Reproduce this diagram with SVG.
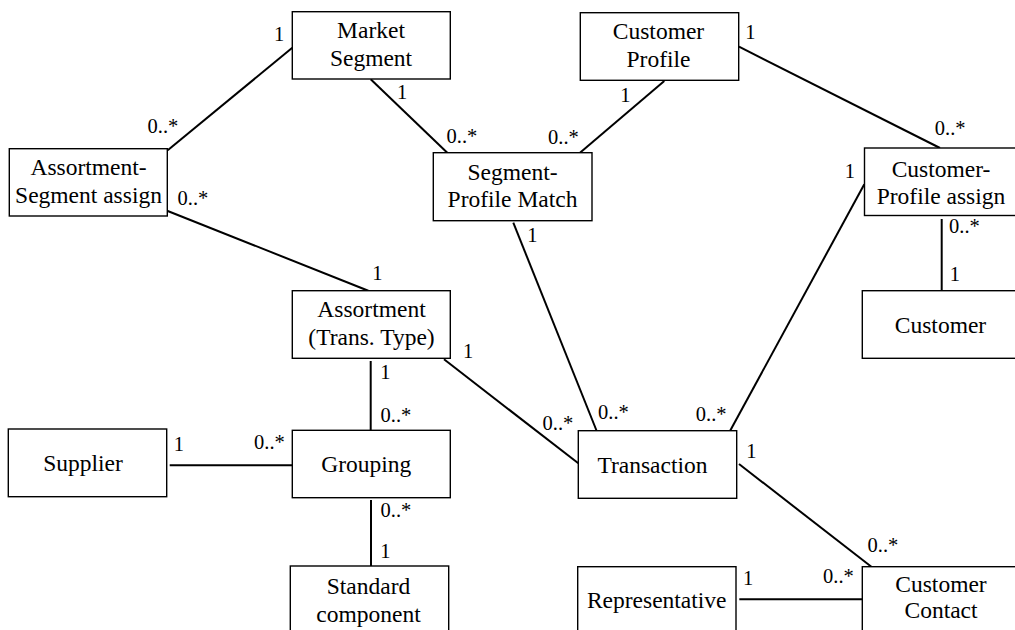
<svg xmlns="http://www.w3.org/2000/svg" width="1015" height="630" viewBox="0 0 1015 630" font-family="Liberation Serif, DejaVu Serif, serif">
<style>
.box{fill:#fff;stroke:#000;stroke-width:1.4}
.lbl{font-family:'Liberation Serif','DejaVu Serif',serif;font-size:23.5px;fill:#000;text-anchor:middle}
.m{font-family:'Liberation Serif','DejaVu Serif',serif;font-size:20.5px;fill:#000}
#connectors line{stroke:#000;stroke-width:2}
</style>
<rect width="1015" height="630" fill="#fff"/>
<g id="connectors">
<line x1="167.7" y1="150.3" x2="292.3" y2="47.7"/>
<line x1="167.7" y1="211" x2="368.3" y2="290.7"/>
<line x1="370.7" y1="79.3" x2="447.3" y2="152.7"/>
<line x1="664.3" y1="81" x2="580" y2="152.7"/>
<line x1="739" y1="46.7" x2="940" y2="148"/>
<line x1="513.3" y1="222.7" x2="596.7" y2="431"/>
<line x1="864.3" y1="184.3" x2="730" y2="431"/>
<line x1="941.7" y1="219" x2="941.7" y2="291"/>
<line x1="444" y1="359.3" x2="578.3" y2="463.3"/>
<line x1="370.7" y1="361" x2="370.7" y2="430.5"/>
<line x1="169.7" y1="465.3" x2="293" y2="465.3"/>
<line x1="371" y1="500" x2="371" y2="566.5"/>
<line x1="739" y1="464" x2="871.7" y2="567"/>
<line x1="739.3" y1="599.3" x2="862.3" y2="599.3"/>
</g>
<g id="multiplicities">
<text class="m" x="274" y="40.5">1</text>
<text class="m" x="147.5" y="133.3">0..*</text>
<text class="m" x="177.5" y="205">0..*</text>
<text class="m" x="372.3" y="280">1</text>
<text class="m" x="397" y="99">1</text>
<text class="m" x="446.5" y="142.7">0..*</text>
<text class="m" x="620.3" y="101.7">1</text>
<text class="m" x="548" y="144">0..*</text>
<text class="m" x="745.3" y="39.3">1</text>
<text class="m" x="934.8" y="135">0..*</text>
<text class="m" x="527.3" y="241.7">1</text>
<text class="m" x="844.7" y="178.3">1</text>
<text class="m" x="949" y="233.3">0..*</text>
<text class="m" x="949.7" y="281">1</text>
<text class="m" x="463" y="358.3">1</text>
<text class="m" x="380.3" y="379.3">1</text>
<text class="m" x="380.5" y="421.7">0..*</text>
<text class="m" x="542.5" y="430">0..*</text>
<text class="m" x="598" y="419.3">0..*</text>
<text class="m" x="695.8" y="420.7">0..*</text>
<text class="m" x="746.3" y="457.7">1</text>
<text class="m" x="173.7" y="451">1</text>
<text class="m" x="254" y="449.3">0..*</text>
<text class="m" x="380.5" y="517.3">0..*</text>
<text class="m" x="380.3" y="558.3">1</text>
<text class="m" x="867.5" y="551.7">0..*</text>
<text class="m" x="743" y="585">1</text>
<text class="m" x="823" y="583.3">0..*</text>
</g>
<g id="market-segment">
<rect class="box" x="292.3" y="11.7" width="158" height="67.3"/>
<text class="lbl" x="371" y="38.3">Market</text>
<text class="lbl" x="371" y="65.5">Segment</text>
</g>
<g id="customer-profile">
<rect class="box" x="580.3" y="12.7" width="158.4" height="67.6"/>
<text class="lbl" x="658.5" y="39.3">Customer</text>
<text class="lbl" x="658.5" y="66.5">Profile</text>
</g>
<g id="assortment-segment-assign">
<rect class="box" x="9.3" y="148.7" width="158" height="67.3"/>
<text class="lbl" x="88.5" y="175">Assortment-</text>
<text class="lbl" x="88.5" y="202.5">Segment assign</text>
</g>
<g id="segment-profile-match">
<rect class="box" x="433.3" y="152.7" width="158.7" height="68"/>
<text class="lbl" x="512.5" y="179.5">Segment-</text>
<text class="lbl" x="512.5" y="206.7">Profile Match</text>
</g>
<g id="customer-profile-assign">
<rect class="box" x="864.5" y="148" width="158" height="67.5"/>
<text class="lbl" x="941" y="176.5">Customer-</text>
<text class="lbl" x="941" y="204">Profile assign</text>
</g>
<g id="customer">
<rect class="box" x="862.3" y="290.7" width="158" height="67.6"/>
<text class="lbl" x="940.5" y="332.7">Customer</text>
</g>
<g id="assortment">
<rect class="box" x="292.3" y="290.7" width="158" height="67.6"/>
<text class="lbl" x="371.5" y="317.3">Assortment</text>
<text class="lbl" x="371.5" y="345">(Trans. Type)</text>
</g>
<g id="grouping">
<rect class="box" x="292.3" y="430.3" width="158" height="67.4"/>
<text class="lbl" x="366.3" y="471.7">Grouping</text>
</g>
<g id="supplier">
<rect class="box" x="8.3" y="429" width="158.4" height="67.7"/>
<text class="lbl" x="83" y="471">Supplier</text>
</g>
<g id="transaction">
<rect class="box" x="578.3" y="430.7" width="158.4" height="67.6"/>
<text class="lbl" x="652.5" y="472.7">Transaction</text>
</g>
<g id="standard-component">
<rect class="box" x="290.3" y="566" width="158.4" height="72"/>
<text class="lbl" x="368.5" y="594.3">Standard</text>
<text class="lbl" x="368.5" y="621.7">component</text>
</g>
<g id="representative">
<rect class="box" x="577.7" y="566.7" width="158.3" height="72"/>
<text class="lbl" x="656.7" y="608.3">Representative</text>
</g>
<g id="customer-contact">
<rect class="box" x="862.3" y="566.7" width="158" height="72"/>
<text class="lbl" x="941" y="591.7">Customer</text>
<text class="lbl" x="941" y="618.3">Contact</text>
</g>
</svg>
